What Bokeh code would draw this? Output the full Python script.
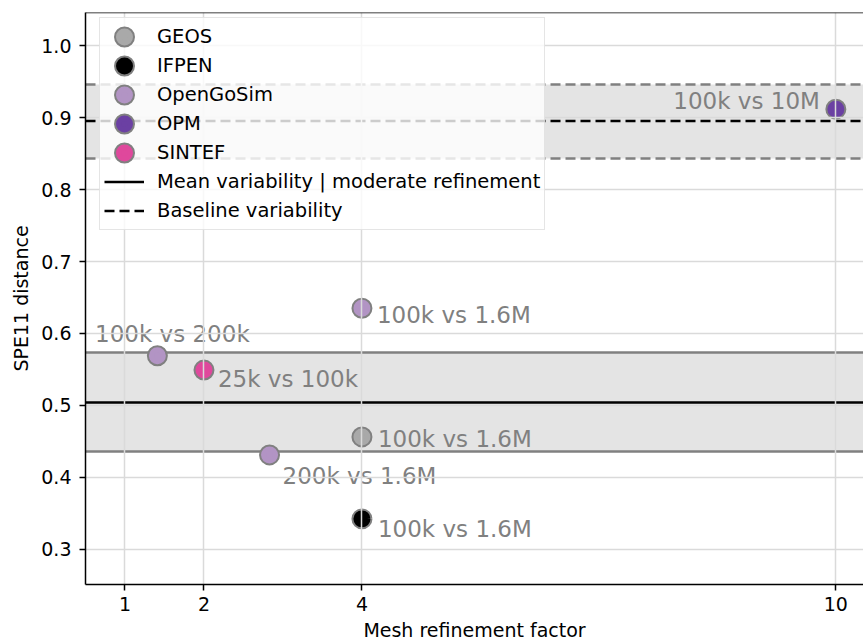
from bokeh.plotting import figure
from bokeh.models import (Range1d, Legend, LegendItem, Span, ColumnDataSource,
                          PrintfTickFormatter)
from bokeh.core.properties import value
from bokeh.embed import file_html
from bokeh.resources import INLINE

# --- data -------------------------------------------------------------------
groups = ["GEOS", "IFPEN", "OpenGoSim", "OPM", "SINTEF"]

point_group = ["GEOS", "IFPEN", "OpenGoSim", "OpenGoSim", "OpenGoSim", "OPM", "SINTEF"]
refinement = [4.0, 4.0, 1.41, 2.83, 4.0, 10.0, 2.0]
distance = [0.456, 0.342, 0.569, 0.431, 0.635, 0.912, 0.549]
comparison = ["100k vs 1.6M", "100k vs 1.6M", "100k vs 200k", "200k vs 1.6M",
              "100k vs 1.6M", "100k vs 10M", "25k vs 100k"]

mean_variability = 0.504
mean_band = [0.436, 0.573]
baseline_variability = 0.8956
baseline_band = [0.844, 0.9465]

x_ticks = [1, 2, 4, 10]
y_ticks = [0.3, 0.4, 0.5, 0.6, 0.7, 0.8, 0.9, 1.0]

# --- styling ----------------------------------------------------------------
FONT = "DejaVu Sans"
DASH = "10 5"
EDGE = "#808080"
group_colors = {
    "GEOS": "#a9a9a9",
    "IFPEN": "#000000",
    "OpenGoSim": "#b294c4",
    "OPM": "#6b40a3",
    "SINTEF": "#df489c",
}
# legend row height; Bokeh sizes legend markers at 0.4 * this, so the
# plotted markers use the same core size and get their extent from strokes
ROW = 29
CORE = 0.4 * ROW
OUTER = 21      # full marker diameter incl. grey edge
INNER = 17      # coloured part of the marker

# screen offsets (px) and alignment for each point's annotation
label_style = [
    (16, 2, "left"),
    (16, 10, "left"),
    (15, -22, "center"),
    (13, 21, "left"),
    (15, 7, "left"),
    (-16, -8, "right"),
    (14, 9, "left"),
]

x_range = Range1d(0.5, 10.35)
y_range = Range1d(0.2507, 1.0465)

p = figure(width=863, height=643, x_range=x_range, y_range=y_range,
           output_backend="svg", toolbar_location=None,
           min_border_left=85, min_border_right=0, min_border_top=12,
           min_border_bottom=58)
p.outline_line_color = None
p.background_fill_color = "white"
p.border_fill_color = "white"

# grid
for g in (p.xgrid, p.ygrid):
    g.grid_line_color = "#dadada"
    g.grid_line_width = 1.5
    g.level = "glyph"
p.xgrid.ticker = x_ticks
p.ygrid.ticker = y_ticks

# axes
p.xaxis.ticker = x_ticks
p.yaxis.ticker = y_ticks
p.yaxis.formatter = PrintfTickFormatter(format="%.1f")
for ax in (p.xaxis, p.yaxis):
    ax.axis_line_width = 1.5
    ax.major_tick_line_width = 1.5
    ax.major_tick_out = 6
    ax.major_tick_in = 0
    ax.minor_tick_line_color = None
    ax.major_label_text_font = FONT
    ax.major_label_text_font_size = "19px"
    ax.major_label_text_color = "black"
    ax.axis_label_text_font = FONT
    ax.axis_label_text_font_size = "19px"
    ax.axis_label_text_font_style = "normal"
    ax.axis_label_text_color = "black"
p.xaxis.axis_label = "Mesh refinement factor"
p.yaxis.axis_label = "SPE11 distance"
p.xaxis.major_label_standoff = 6
p.xaxis.axis_label_standoff = 5
p.yaxis.major_label_standoff = 8
p.yaxis.axis_label_standoff = 6

# top spine
p.add_layout(Span(location=y_range.end, dimension="width",
                  line_color="black", line_width=1.5))

# variability bands
p.hstrip(y0=[mean_band[0], baseline_band[0]], y1=[mean_band[1], baseline_band[1]],
         fill_color="#e4e4e4", line_color=None, level="underlay")
p.hspan(y=mean_band, line_color=EDGE, line_width=2.5)
p.hspan(y=baseline_band, line_color=EDGE, line_width=2.5, line_dash=DASH)

span_x = [x_range.start, x_range.end]
mean_r = p.line(span_x, [mean_variability] * 2, line_color="black", line_width=2.5)
base_r = p.line(span_x, [baseline_variability] * 2, line_color="black",
                line_width=2.5, line_dash=DASH)

# points per group: grey disc underneath, coloured disc on top
legend_items = []
for grp in groups:
    idx = [i for i, g in enumerate(point_group) if g == grp]
    src = ColumnDataSource(dict(x=[refinement[i] for i in idx],
                                y=[distance[i] for i in idx]))
    col = group_colors[grp]
    ring = p.scatter("x", "y", source=src, size=CORE, fill_color=EDGE,
                     line_color=EDGE, line_width=OUTER - CORE)
    disc = p.scatter("x", "y", source=src, size=CORE, fill_color=col,
                     line_color=col, line_width=INNER - CORE)
    legend_items.append(LegendItem(label=grp, renderers=[ring, disc]))

legend_items.append(LegendItem(label="Mean variability | moderate refinement",
                               renderers=[mean_r]))
legend_items.append(LegendItem(label="Baseline variability", renderers=[base_r]))

# point annotations
for align in ("left", "center", "right"):
    idx = [i for i, s in enumerate(label_style) if s[2] == align]
    src = ColumnDataSource(dict(
        x=[refinement[i] for i in idx],
        y=[distance[i] for i in idx],
        t=[comparison[i] for i in idx],
        dx=[label_style[i][0] for i in idx],
        dy=[label_style[i][1] for i in idx],
    ))
    p.text("x", "y", text="t", source=src, x_offset="dx", y_offset="dy",
           text_align=align, text_baseline="alphabetic",
           text_font_size="23px", text_color=EDGE, text_font=value(FONT))

legend = Legend(items=legend_items, location=(14, 354),
                glyph_width=40, glyph_height=ROW, label_height=ROW,
                spacing=0, padding=4, label_standoff=13,
                label_text_font=FONT, label_text_font_size="19.5px",
                label_text_color="black",
                background_fill_color="white", background_fill_alpha=0.8,
                border_line_color="#cccccc", border_line_width=1)
p.add_layout(legend)

open("out.html", "w").write(file_html(p, INLINE))
